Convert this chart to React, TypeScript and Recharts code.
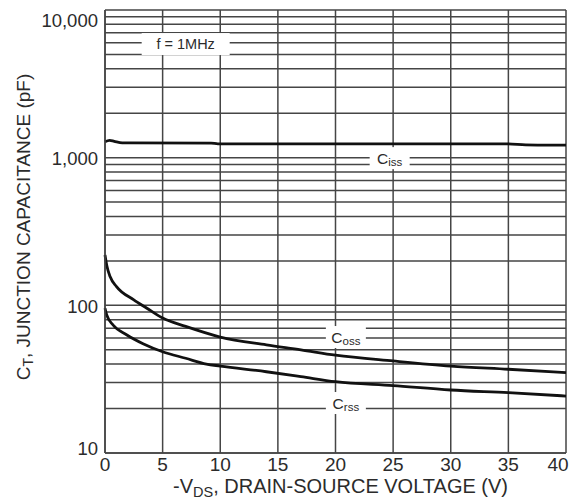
import { LineChart, Line, XAxis, YAxis, CartesianGrid, ReferenceDot, Label } from "recharts";

const FONT = '"Liberation Sans", Arial, sans-serif';
const INK = "#2b2b2b";
const GRID = "#454545";

// -V_DS (volts) tick values
const X_TICKS = [0, 5, 10, 15, 20, 25, 30, 35, 40];

// log grid: every 1..9 multiple per decade, labels only on decades
const Y_GRID = [
  10, 20, 30, 40, 50, 60, 70, 80, 90,
  100, 200, 300, 400, 500, 600, 700, 800, 900,
  1000, 2000, 3000, 4000, 5000, 6000, 7000, 8000, 9000,
  10000,
];
const Y_LABELED = [10, 100, 1000, 10000];

// Ciss
const CISS_V = [0, 0.4, 0.8, 1.5, 9.2, 9.8, 35, 36.5, 40];
const CISS_PF = [1280, 1310, 1290, 1260, 1255, 1240, 1240, 1220, 1215];

// Coss
const COSS_V = [0, 0.15, 0.45, 1, 2.5, 3.6, 5, 7, 10, 14, 17, 20, 25, 30, 35, 40];
const COSS_PF = [219, 187, 156, 134, 109, 96, 82, 72, 61, 54, 50, 46, 42, 38.8, 36.9, 35];

// Crss
const CRSS_V = [0, 0.15, 0.7, 1.9, 3.3, 5, 7, 8.8, 10, 14, 17, 20, 25, 30, 35, 40];
const CRSS_PF = [95.5, 86, 73.6, 63, 55, 48.5, 43.8, 40, 38.8, 35.5, 32.9, 30.4, 28.6, 26.7, 25.6, 24.3];

const rows = (v: number[], c: number[]) => v.map((x, i) => ({ v: x, c: c[i] }));

const ciss = rows(CISS_V, CISS_PF);
const coss = rows(COSS_V, COSS_PF);
const crss = rows(CRSS_V, CRSS_PF);

function YTick(props: any) {
  const { x, y, payload } = props;
  const val = payload.value as number;
  if (!Y_LABELED.includes(val)) return null;
  const dy = val === 10000 ? 10 : val === 10 ? -5 : 1;
  return (
    <text
      x={x - 1}
      y={y + dy}
      textAnchor="end"
      dominantBaseline="central"
      fontFamily={FONT}
      fontSize={18.5}
      fill={INK}
    >
      {val.toLocaleString("en-US")}
    </text>
  );
}

function XTick(props: any) {
  const { x, payload } = props;
  const val = payload.value as number;
  const dx = val === 40 ? -8 : 0;
  return (
    <text
      x={x + dx}
      y={471}
      textAnchor="middle"
      fontFamily={FONT}
      fontSize={19}
      fill={INK}
    >
      {val}
    </text>
  );
}

function Tag(props: any) {
  const { cx, cy, main, sub, w } = props;
  return (
    <g>
      <rect x={cx - w / 2} y={cy - 11} width={w} height={22} fill="#fff" />
      <text
        x={cx}
        y={cy}
        textAnchor="middle"
        dominantBaseline="central"
        fontFamily={FONT}
        fontSize={sub ? 15.5 : 14.5}
        fill={INK}
      >
        {main}
        {sub ? (
          <tspan dy={4} fontSize={11.5}>
            {sub}
          </tspan>
        ) : null}
      </text>
    </g>
  );
}

export default function App() {
  return (
    <div style={{ position: "absolute", left: 0, top: 0, background: "#fff" }}>
      <LineChart width={577} height={499} margin={{ top: 10, right: 11, bottom: 0, left: 0 }}>
        <CartesianGrid stroke={GRID} strokeWidth={1.5} fill="#fff" />
        <XAxis
          dataKey="v"
          type="number"
          domain={[0, 40]}
          ticks={X_TICKS}
          interval={0}
          height={46}
          tickLine={false}
          tickMargin={0}
          axisLine={{ stroke: GRID, strokeWidth: 1.5 }}
          tick={<XTick />}
        >
          <Label
            content={(p: any) => {
              const vb = p.viewBox;
              return (
                <text
                  x={vb.x + vb.width / 2 + 5}
                  y={vb.y + 40}
                  textAnchor="middle"
                  fontFamily={FONT}
                  fontSize={20}
                  fill={INK}
                >
                  -V
                  <tspan dy={4} fontSize={14.5}>DS</tspan>
                  <tspan dy={-4}>, DRAIN-SOURCE VOLTAGE (V)</tspan>
                </text>
              );
            }}
          />
        </XAxis>
        <YAxis
          scale="log"
          type="number"
          domain={[10, 10000]}
          ticks={Y_GRID}
          interval={0}
          allowDataOverflow
          width={105}
          tickLine={false}
          tickMargin={0}
          axisLine={{ stroke: GRID, strokeWidth: 1.5 }}
          tick={<YTick />}
        >
          <Label
            content={(p: any) => {
              const vb = p.viewBox;
              const cx = vb.x + 23;
              const cy = vb.y + 217;
              return (
                <text
                  x={cx}
                  y={cy}
                  transform={`rotate(-90 ${cx} ${cy})`}
                  textAnchor="middle"
                  dominantBaseline="central"
                  fontFamily={FONT}
                  fontSize={19}
                  fill={INK}
                >
                  C
                  <tspan dy={5} fontSize={14}>T</tspan>
                  <tspan dy={-5}>, JUNCTION CAPACITANCE (pF)</tspan>
                </text>
              );
            }}
          />
        </YAxis>
        <Line data={ciss} dataKey="c" type="monotone" dot={false} stroke="#111" strokeWidth={2.8} isAnimationActive={false} />
        <Line data={coss} dataKey="c" type="monotone" dot={false} stroke="#111" strokeWidth={2.8} isAnimationActive={false} />
        <Line data={crss} dataKey="c" type="monotone" dot={false} stroke="#111" strokeWidth={2.8} isAnimationActive={false} />
        <ReferenceDot x={7} y={5880} r={0} shape={(p: any) => <Tag {...p} main="f = 1MHz" w={88} />} />
        <ReferenceDot x={24.7} y={993} r={0} shape={(p: any) => <Tag {...p} main="C" sub="iss" w={40} />} />
        <ReferenceDot x={20.9} y={61} r={0} shape={(p: any) => <Tag {...p} main="C" sub="oss" w={40} />} />
        <ReferenceDot x={20.9} y={21.8} r={0} shape={(p: any) => <Tag {...p} main="C" sub="rss" w={40} />} />
      </LineChart>
    </div>
  );
}
